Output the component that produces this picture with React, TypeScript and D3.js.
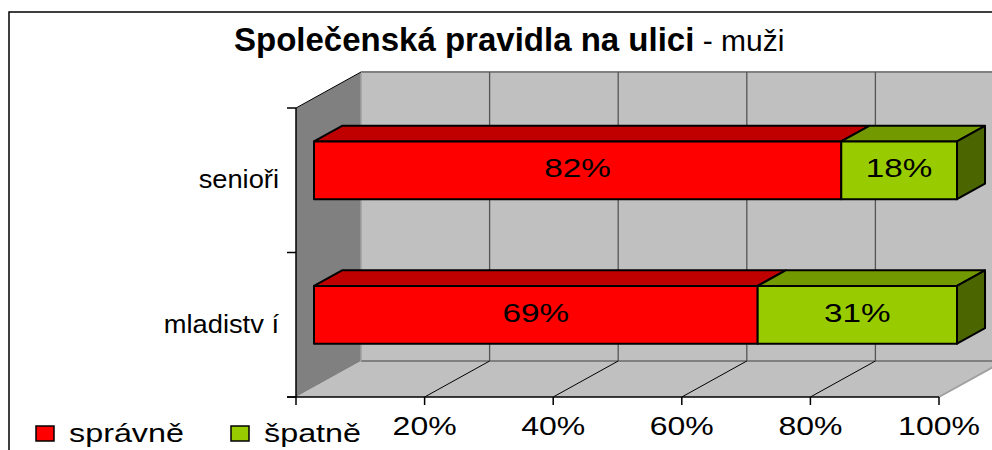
import React from "react";
import * as d3 from "d3";

const categories = ["senioři", "mladistv í"];
const seriesNames = ["správně", "špatně"];
const spravne = [82, 69];
const spatne = [18, 31];
const xTickValues = [0, 20, 40, 60, 80, 100];
const xTickLabels = ["", "20%", "40%", "60%", "80%", "100%"];
const titleBold = "Společenská pravidla na ulici";
const titleRest = " - muži";

const FRONT = ["#ff0000", "#99cc00"];
const TOP = ["#c00000", "#739900"];
const SIDE = ["#8a0000", "#4b6600"];
const FONT = "'Liberation Sans', Arial, sans-serif";

const DX = 65;
const DY = -36;
const D1 = 0.277;
const D2 = 0.708;

export default function App() {
  const x = d3.scaleLinear().domain([0, 100]).range([296, 939]);
  const y = d3
    .scaleBand<string>()
    .domain(categories)
    .range([108, 397])
    .paddingInner(0.6)
    .paddingOuter(0.3);
  const [yTop, yBot] = y.range() as [number, number];
  const P = (px: number, py: number, d: number) => [px + DX * d, py + DY * d];
  const pts = (arr: number[][]) => arr.map((p) => p.join(",")).join(" ");

  const series = [spravne, spatne];

  const bars: React.ReactNode[] = [];
  categories.forEach((c, ci) => {
    const y0 = y(c)!;
    const y1 = y0 + y.bandwidth();
    let acc = 0;
    series.forEach((s, si) => {
      const v0 = acc;
      const v1 = acc + s[ci];
      acc = v1;
      const x0 = x(v0);
      const x1 = x(v1);
      const f = [P(x0, y0, D1), P(x1, y0, D1), P(x1, y1, D1), P(x0, y1, D1)];
      const t = [P(x0, y0, D1), P(x1, y0, D1), P(x1, y0, D2), P(x0, y0, D2)];
      const sd = [P(x1, y0, D1), P(x1, y0, D2), P(x1, y1, D2), P(x1, y1, D1)];
      const cx = (f[0][0] + f[1][0]) / 2;
      const cy = (f[0][1] + f[2][1]) / 2;
      bars.push(
        <g key={`${ci}-${si}`}>
          <polygon points={pts(t)} fill={TOP[si]} stroke="#000" strokeWidth={2} strokeLinejoin="round" />
          {si === series.length - 1 && (
            <polygon points={pts(sd)} fill={SIDE[si]} stroke="#000" strokeWidth={2} strokeLinejoin="round" />
          )}
          <polygon points={pts(f)} fill={FRONT[si]} stroke="#000" strokeWidth={2} strokeLinejoin="round" />
          <text
            transform={`translate(${cx},${cy + 7}) scale(1.28,1)`}
            textAnchor="middle"
            fontSize={26}
            fontFamily={FONT}
            fill="#000"
          >
            {`${s[ci]}%`}
          </text>
        </g>
      );
    });
  });

  const backTL = P(x(0), yTop, 1);
  const backBR = P(x(100), yBot, 1);
  const leftWall = [P(x(0), yTop, 0), P(x(0), yTop, 1), P(x(0), yBot, 1), P(x(0), yBot, 0)];
  const floor = [P(x(0), yBot, 0), P(x(0), yBot, 1), P(x(100), yBot, 1), P(x(100), yBot, 0)];

  const catTicks = [yTop, ...categories.slice(1).map((c) => y(c)! - (y.step() * y.paddingInner()) / 2), yBot];

  return (
    <svg
      width={992}
      height={450}
      style={{ position: "absolute", left: 0, top: 0, background: "#fff" }}
    >
      <rect x={0} y={0} width={992} height={450} fill="#fff" />
      <rect x={9} y={12} width={1100} height={600} fill="#fff" stroke="#000" strokeWidth={1.5} />

      {/* title */}
      <text x={234} y={51} fontFamily={FONT} fill="#000">
        <tspan fontSize={33} fontWeight="bold">{titleBold}</tspan>
        <tspan fontSize={30}>{titleRest}</tspan>
      </text>

      {/* walls */}
      <rect
        x={backTL[0]}
        y={backTL[1]}
        width={backBR[0] - backTL[0]}
        height={backBR[1] - backTL[1]}
        fill="#c0c0c0"
      />
      <polygon points={pts(floor)} fill="#c0c0c0" />
      <polygon points={pts(leftWall)} fill="#808080" />
      <line x1={backTL[0]} y1={backTL[1]} x2={backBR[0]} y2={backTL[1]} stroke="#808080" strokeWidth={2} />
      <line x1={backTL[0]} y1={backBR[1]} x2={backBR[0]} y2={backBR[1]} stroke="#808080" strokeWidth={2} />
      <line x1={backTL[0]} y1={backTL[1]} x2={backTL[0]} y2={backBR[1]} stroke="#a0a0a0" strokeWidth={1.5} />
      <line
        x1={leftWall[0][0]}
        y1={leftWall[0][1]}
        x2={leftWall[1][0]}
        y2={leftWall[1][1]}
        stroke="#000"
        strokeWidth={1}
      />
      <line
        x1={floor[3][0]}
        y1={floor[3][1]}
        x2={floor[2][0]}
        y2={floor[2][1]}
        stroke="#a0a0a0"
        strokeWidth={2}
      />

      {/* gridlines */}
      {xTickValues.slice(1, -1).map((v) => {
        const b0 = P(x(v), yTop, 1);
        const b1 = P(x(v), yBot, 1);
        const f0 = P(x(v), yBot, 0);
        return (
          <g key={`g${v}`}>
            <line x1={b0[0]} y1={b0[1]} x2={b1[0]} y2={b1[1]} stroke="#555" strokeWidth={1.3} />
            <line x1={f0[0]} y1={f0[1]} x2={b1[0]} y2={b1[1]} stroke="#000" strokeWidth={1} />
          </g>
        );
      })}

      {/* axes */}
      <line x1={x(0)} y1={yTop} x2={x(0)} y2={yBot} stroke="#000" strokeWidth={1.5} />
      <line x1={x(0) - 9} y1={yBot} x2={x(100)} y2={yBot} stroke="#000" strokeWidth={1.5} />
      {catTicks.map((t, i) => (
        <line key={`ct${i}`} x1={x(0) - 9} y1={t} x2={x(0)} y2={t} stroke="#000" strokeWidth={1.5} />
      ))}
      {xTickValues.map((v) => (
        <line key={`xt${v}`} x1={x(v)} y1={yBot} x2={x(v)} y2={yBot + 8} stroke="#000" strokeWidth={1.5} />
      ))}

      {bars}

      {/* category labels */}
      {categories.map((c) => (
        <text
          key={c}
          transform={`translate(${x(0) - 17},${y(c)! + y.bandwidth() / 2 + 8}) scale(1.05,1)`}
          textAnchor="end"
          fontSize={26}
          fontFamily={FONT}
          fill="#000"
        >
          {c}
        </text>
      ))}

      {/* x tick labels */}
      {xTickValues.map((v, i) =>
        xTickLabels[i] ? (
          <text
            key={`xl${v}`}
            transform={`translate(${x(v)},${435}) scale(1.28,1)`}
            textAnchor="middle"
            fontSize={25}
            fontFamily={FONT}
            fill="#000"
          >
            {xTickLabels[i]}
          </text>
        ) : null
      )}

      {/* legend */}
      {seriesNames.map((n, i) => {
        const lx = [36, 231][i];
        return (
          <g key={n}>
            <rect x={lx} y={426} width={18} height={15} fill={FRONT[i]} stroke="#000" strokeWidth={1.5} />
            <text
              transform={`translate(${lx + 33},${442}) scale(1.22,1)`}
              fontSize={26.5}
              fontFamily={FONT}
              fill="#000"
            >
              {n}
            </text>
          </g>
        );
      })}
    </svg>
  );
}
